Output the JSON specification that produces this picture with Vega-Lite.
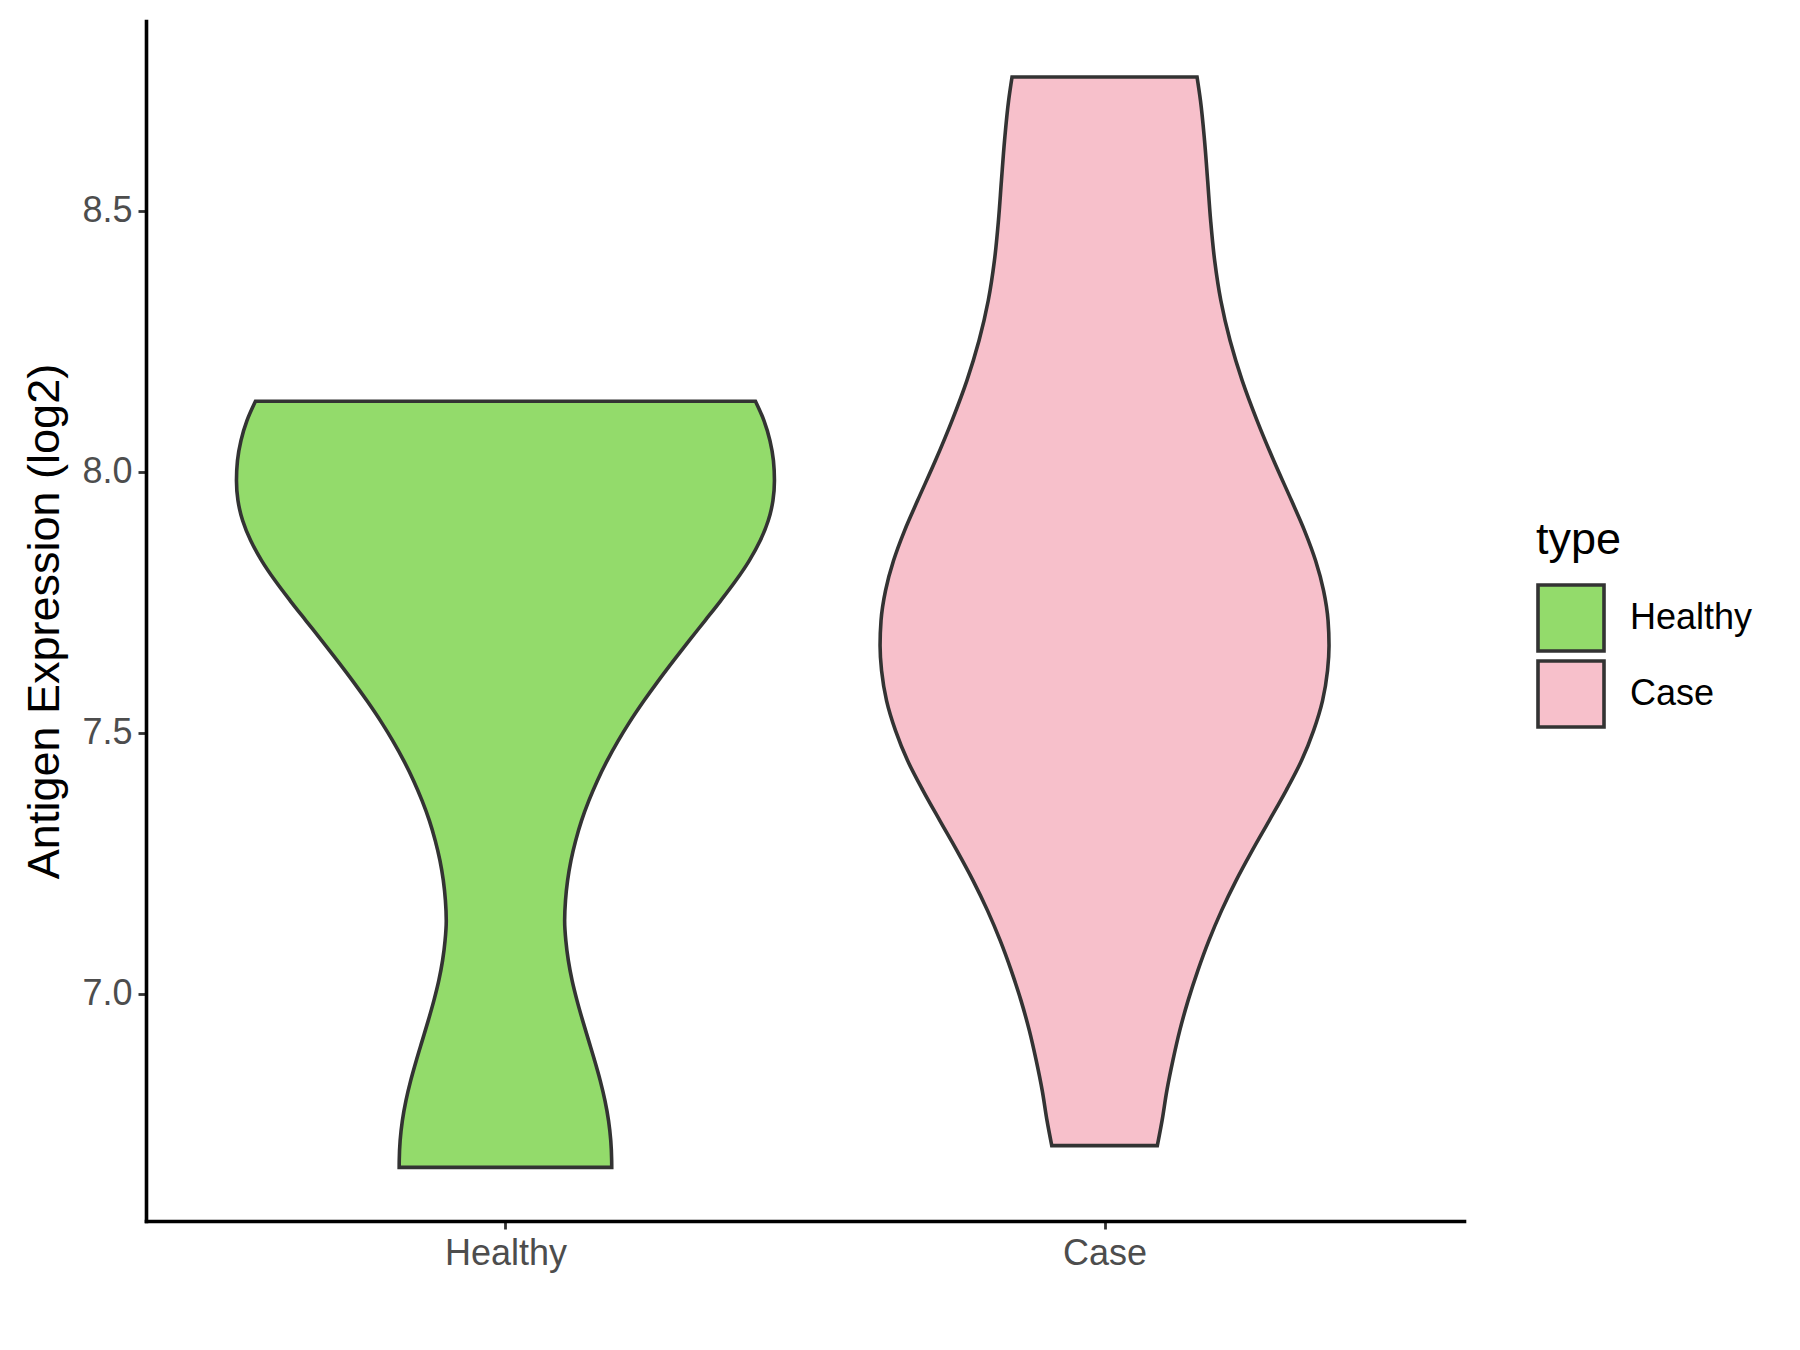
{
  "$schema": "https://vega.github.io/schema/vega-lite/v6.json",
  "width": 1318,
  "height": 1200,
  "autosize": {"type": "none"},
  "padding": {"left": 146, "top": 21, "right": 336, "bottom": 129},
  "background": "white",
  "config": {"view": {"stroke": null}, "font": "Liberation Sans"},
  "data": {
    "values": [
      {"type": "Healthy", "value": 8.1347, "xmin": 0.5827, "xmax": 1.4173},
      {"type": "Healthy", "value": 8.0977, "xmin": 0.5685, "xmax": 1.4315},
      {"type": "Healthy", "value": 8.0594, "xmin": 0.5585, "xmax": 1.4415},
      {"type": "Healthy", "value": 8.0211, "xmin": 0.5527, "xmax": 1.4473},
      {"type": "Healthy", "value": 7.9828, "xmin": 0.551, "xmax": 1.449},
      {"type": "Healthy", "value": 7.9444, "xmin": 0.5535, "xmax": 1.4465},
      {"type": "Healthy", "value": 7.9061, "xmin": 0.5613, "xmax": 1.4387},
      {"type": "Healthy", "value": 7.8678, "xmin": 0.5747, "xmax": 1.4253},
      {"type": "Healthy", "value": 7.8295, "xmin": 0.593, "xmax": 1.407},
      {"type": "Healthy", "value": 7.7912, "xmin": 0.6154, "xmax": 1.3846},
      {"type": "Healthy", "value": 7.7529, "xmin": 0.6405, "xmax": 1.3595},
      {"type": "Healthy", "value": 7.7146, "xmin": 0.6668, "xmax": 1.3332},
      {"type": "Healthy", "value": 7.6762, "xmin": 0.6934, "xmax": 1.3066},
      {"type": "Healthy", "value": 7.6379, "xmin": 0.7194, "xmax": 1.2806},
      {"type": "Healthy", "value": 7.5996, "xmin": 0.7446, "xmax": 1.2554},
      {"type": "Healthy", "value": 7.5613, "xmin": 0.7686, "xmax": 1.2314},
      {"type": "Healthy", "value": 7.5172, "xmin": 0.7944, "xmax": 1.2056},
      {"type": "Healthy", "value": 7.4847, "xmin": 0.8117, "xmax": 1.1883},
      {"type": "Healthy", "value": 7.4464, "xmin": 0.8302, "xmax": 1.1698},
      {"type": "Healthy", "value": 7.408, "xmin": 0.8466, "xmax": 1.1534},
      {"type": "Healthy", "value": 7.3697, "xmin": 0.8608, "xmax": 1.1392},
      {"type": "Healthy", "value": 7.3314, "xmin": 0.873, "xmax": 1.127},
      {"type": "Healthy", "value": 7.2931, "xmin": 0.8828, "xmax": 1.1172},
      {"type": "Healthy", "value": 7.2548, "xmin": 0.8907, "xmax": 1.1093},
      {"type": "Healthy", "value": 7.2165, "xmin": 0.8963, "xmax": 1.1037},
      {"type": "Healthy", "value": 7.1782, "xmin": 0.8998, "xmax": 1.1002},
      {"type": "Healthy", "value": 7.1398, "xmin": 0.9012, "xmax": 1.0988},
      {"type": "Healthy", "value": 7.1015, "xmin": 0.8992, "xmax": 1.1008},
      {"type": "Healthy", "value": 7.0632, "xmin": 0.895, "xmax": 1.105},
      {"type": "Healthy", "value": 7.0249, "xmin": 0.8887, "xmax": 1.1113},
      {"type": "Healthy", "value": 6.9866, "xmin": 0.8805, "xmax": 1.1195},
      {"type": "Healthy", "value": 6.9483, "xmin": 0.8711, "xmax": 1.1289},
      {"type": "Healthy", "value": 6.91, "xmin": 0.8611, "xmax": 1.1389},
      {"type": "Healthy", "value": 6.8716, "xmin": 0.8511, "xmax": 1.1489},
      {"type": "Healthy", "value": 6.8333, "xmin": 0.8418, "xmax": 1.1582},
      {"type": "Healthy", "value": 6.795, "xmin": 0.8339, "xmax": 1.1661},
      {"type": "Healthy", "value": 6.7567, "xmin": 0.8279, "xmax": 1.1721},
      {"type": "Healthy", "value": 6.7184, "xmin": 0.8242, "xmax": 1.1758},
      {"type": "Healthy", "value": 6.6801, "xmin": 0.8227, "xmax": 1.1773},
      {"type": "Healthy", "value": 6.6672, "xmin": 0.8226, "xmax": 1.1774},
      {"type": "Case", "value": 8.7556, "xmin": 1.8456, "xmax": 2.1544},
      {"type": "Case", "value": 8.7107, "xmin": 1.8399, "xmax": 2.1601},
      {"type": "Case", "value": 8.6341, "xmin": 1.8331, "xmax": 2.1669},
      {"type": "Case", "value": 8.5575, "xmin": 1.8279, "xmax": 2.1721},
      {"type": "Case", "value": 8.4808, "xmin": 1.8229, "xmax": 2.1771},
      {"type": "Case", "value": 8.4042, "xmin": 1.8162, "xmax": 2.1838},
      {"type": "Case", "value": 8.3276, "xmin": 1.8059, "xmax": 2.1941},
      {"type": "Case", "value": 8.251, "xmin": 1.7905, "xmax": 2.2095},
      {"type": "Case", "value": 8.1743, "xmin": 1.7702, "xmax": 2.2298},
      {"type": "Case", "value": 8.0977, "xmin": 1.7454, "xmax": 2.2546},
      {"type": "Case", "value": 8.0211, "xmin": 1.7177, "xmax": 2.2823},
      {"type": "Case", "value": 7.9444, "xmin": 1.6879, "xmax": 2.3121},
      {"type": "Case", "value": 7.887, "xmin": 1.6662, "xmax": 2.3338},
      {"type": "Case", "value": 7.8295, "xmin": 1.6478, "xmax": 2.3522},
      {"type": "Case", "value": 7.772, "xmin": 1.6344, "xmax": 2.3656},
      {"type": "Case", "value": 7.7146, "xmin": 1.6269, "xmax": 2.3731},
      {"type": "Case", "value": 7.6667, "xmin": 1.6253, "xmax": 2.3747},
      {"type": "Case", "value": 7.6188, "xmin": 1.6278, "xmax": 2.3722},
      {"type": "Case", "value": 7.5613, "xmin": 1.6361, "xmax": 2.3639},
      {"type": "Case", "value": 7.5038, "xmin": 1.6511, "xmax": 2.3489},
      {"type": "Case", "value": 7.4464, "xmin": 1.6712, "xmax": 2.3288},
      {"type": "Case", "value": 7.3889, "xmin": 1.697, "xmax": 2.303},
      {"type": "Case", "value": 7.3314, "xmin": 1.7251, "xmax": 2.2749},
      {"type": "Case", "value": 7.2739, "xmin": 1.7536, "xmax": 2.2464},
      {"type": "Case", "value": 7.2165, "xmin": 1.7805, "xmax": 2.2195},
      {"type": "Case", "value": 7.159, "xmin": 1.8047, "xmax": 2.1953},
      {"type": "Case", "value": 7.1015, "xmin": 1.8259, "xmax": 2.1741},
      {"type": "Case", "value": 7.0441, "xmin": 1.8443, "xmax": 2.1557},
      {"type": "Case", "value": 6.9866, "xmin": 1.8606, "xmax": 2.1394},
      {"type": "Case", "value": 6.9291, "xmin": 1.8745, "xmax": 2.1255},
      {"type": "Case", "value": 6.8716, "xmin": 1.886, "xmax": 2.114},
      {"type": "Case", "value": 6.8142, "xmin": 1.896, "xmax": 2.104},
      {"type": "Case", "value": 6.7567, "xmin": 1.904, "xmax": 2.096},
      {"type": "Case", "value": 6.7088, "xmin": 1.9119, "xmax": 2.0881}
    ]
  },
  "mark": {"type": "area", "orient": "horizontal", "interpolate": "monotone", "stroke": "#333333", "strokeWidth": 3.6, "fillOpacity": 1},
  "encoding": {
    "y": {
      "field": "value", "type": "quantitative",
      "scale": {"domain": [6.5645, 8.863], "nice": false, "zero": false},
      "axis": {
        "title": "Antigen Expression (log2)", "values": [7, 7.5, 8, 8.5], "format": ".1f", "grid": false,
        "domainColor": "black", "domainWidth": 3.6, "domainCap": "square",
        "tickColor": "#333333", "tickWidth": 2.8, "tickSize": 8,
        "labelFontSize": 36, "labelColor": "#4D4D4D", "labelPadding": 6,
        "titleFontSize": 45, "titleFontWeight": "normal", "titleColor": "black", "titlePadding": 14
      }
    },
    "x": {
      "field": "xmin", "type": "quantitative",
      "scale": {"domain": [0.4, 2.6], "nice": false, "zero": false},
      "axis": {
        "title": null, "values": [1, 2], "labelExpr": "datum.value == 1 ? 'Healthy' : 'Case'", "grid": false,
        "domainColor": "black", "domainWidth": 3.6, "domainCap": "square",
        "tickColor": "#333333", "tickWidth": 2.8, "tickSize": 8,
        "labelFontSize": 36, "labelColor": "#4D4D4D", "labelPadding": 7
      }
    },
    "x2": {"field": "xmax"},
    "fill": {
      "field": "type", "type": "nominal",
      "scale": {"domain": ["Healthy", "Case"], "range": ["#93DB6B", "#F7C0CB"]},
      "legend": {
        "title": "type", "orient": "none", "legendX": 1390, "legendY": 497, "padding": 0,
        "symbolType": "square", "symbolSize": 4356, "symbolStrokeColor": "#333333", "symbolStrokeWidth": 3.6, "symbolOpacity": 1,
        "labelFontSize": 36, "labelColor": "black", "labelOffset": 24,
        "titleFontSize": 45, "titleFontWeight": "normal", "titleColor": "black", "titlePadding": 20, "rowPadding": -9
      }
    }
  }
}
